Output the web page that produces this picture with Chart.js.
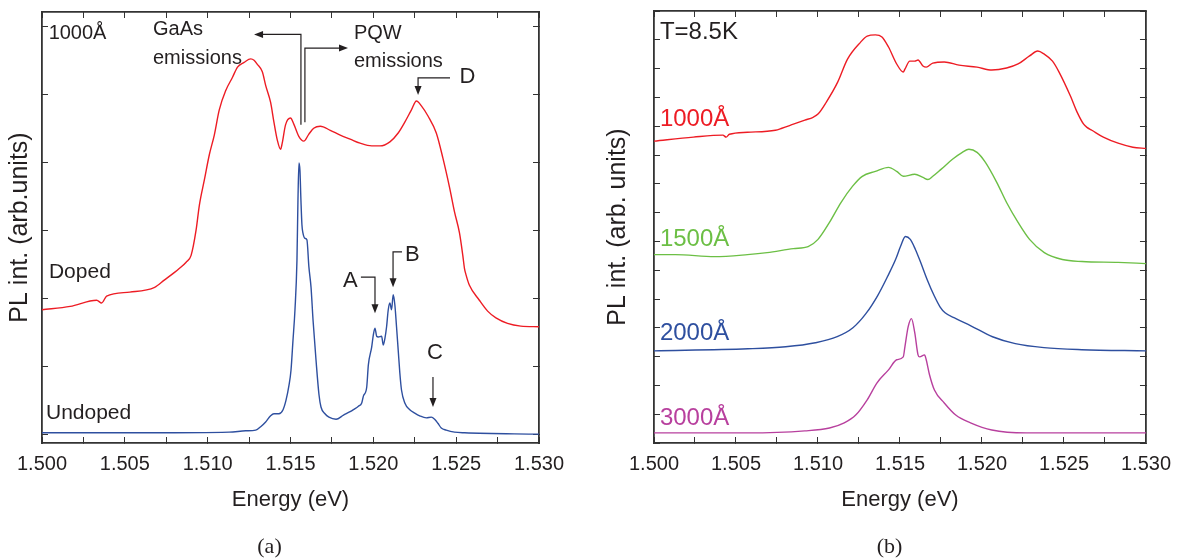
<!DOCTYPE html>
<html>
<head>
<meta charset="utf-8">
<script src="https://cdn.jsdelivr.net/npm/chart.js@4.4.1/dist/chart.umd.min.js"></script>
<style>
  html, body { margin: 0; padding: 0; background: #fff; }
  #wrap { position: relative; width: 1186px; height: 560px; }
  canvas { position: absolute; top: 0; }
  #panel-a { left: 0; }
  #panel-b { left: 593px; }
</style>
</head>
<body>
<div id="wrap">
  <canvas id="panel-a" width="593" height="560"></canvas>
  <canvas id="panel-b" width="593" height="560"></canvas>
</div>
<script>
// x axis: energy ticks (minor ticks get an empty label)
const energyTicks = [1.5, 1.5025, 1.505, 1.5075, 1.51, 1.5125, 1.515, 1.5175, 1.52, 1.5225, 1.525, 1.5275, 1.53];
const energyLabels = ["1.500", "", "1.505", "", "1.510", "", "1.515", "", "1.520", "", "1.525", "", "1.530"];
const yTicksA = [0.12, 1.12, 2.12, 3.12, 4.12, 5.12, 6.12];
const yTicksB = [0, 1, 2, 3, 4, 5, 6, 7, 8, 9, 10, 11, 12, 13, 14, 15];

// (a) doped sample, 1000 A
const energyDoped = [1.5000, 1.5017, 1.5033, 1.5036, 1.5039, 1.5053, 1.5068, 1.5074, 1.5080, 1.5083,
  1.5087, 1.5090, 1.5093, 1.5095, 1.5098, 1.5101, 1.5104, 1.5107, 1.5111, 1.5115,
  1.5118, 1.5122, 1.5126, 1.5128, 1.5130, 1.5133, 1.5135, 1.5138, 1.5140, 1.5142,
  1.5144, 1.5145, 1.5147, 1.5150, 1.5152, 1.5155, 1.5158, 1.5161, 1.5164, 1.5168,
  1.5174, 1.5180, 1.5186, 1.5192, 1.5199, 1.5204, 1.5210, 1.5215, 1.5219, 1.5223,
  1.5226, 1.5229, 1.5233, 1.5238, 1.5242, 1.5246, 1.5249, 1.5252, 1.5254, 1.5255,
  1.5256, 1.5258, 1.5264, 1.5269, 1.5274, 1.5281, 1.5289, 1.5300];
const dopedPL = [1.96, 2.01, 2.10, 2.06, 2.16, 2.22, 2.29, 2.40, 2.51, 2.57,
  2.66, 2.76, 3.13, 3.50, 3.87, 4.24, 4.53, 4.90, 5.19, 5.38,
  5.53, 5.60, 5.65, 5.63, 5.57, 5.46, 5.26, 5.01, 4.72, 4.46,
  4.32, 4.41, 4.68, 4.78, 4.69, 4.51, 4.44, 4.54, 4.63, 4.66,
  4.60, 4.53, 4.47, 4.41, 4.37, 4.37, 4.43, 4.56, 4.72, 4.90,
  5.03, 4.96, 4.81, 4.56, 4.19, 3.76, 3.40, 3.09, 2.76, 2.57,
  2.47, 2.32, 2.10, 1.94, 1.84, 1.76, 1.72, 1.71];

// (a) undoped sample
const energyUndoped = [1.5000, 1.5065, 1.5113, 1.5123, 1.5129, 1.5132, 1.5135, 1.5138, 1.5140, 1.5143,
  1.51455, 1.51473, 1.51491, 1.51503, 1.51515, 1.51527, 1.51539, 1.51545, 1.51551, 1.51557,
  1.51563, 1.51569, 1.51575, 1.51587, 1.51599, 1.51611, 1.51624, 1.51636, 1.51654, 1.51672,
  1.51684, 1.51708, 1.51732, 1.51775, 1.5182, 1.5186, 1.5188, 1.5191, 1.5193, 1.5194,
  1.5196, 1.5197, 1.5199, 1.5200, 1.5201, 1.5202, 1.5203, 1.5205, 1.5206, 1.5207,
  1.5208, 1.5209, 1.5210, 1.5211, 1.5212, 1.5213, 1.5214, 1.5215, 1.5216, 1.5217,
  1.5219, 1.5222, 1.5225, 1.5228, 1.5232, 1.5235, 1.5237, 1.5239, 1.5241, 1.5244,
  1.5249, 1.5255, 1.5300];
const undopedPL = [0.15, 0.15, 0.16, 0.18, 0.19, 0.24, 0.31, 0.40, 0.43, 0.43,
  0.49, 0.63, 0.85, 1.07, 1.51, 1.96, 2.69, 3.57, 4.12, 4.01,
  3.57, 3.21, 3.09, 3.01, 2.99, 2.59, 2.29, 1.81, 1.22, 0.71,
  0.53, 0.43, 0.38, 0.35, 0.41, 0.46, 0.49, 0.54, 0.59, 0.69,
  0.82, 1.15, 1.41, 1.59, 1.69, 1.57, 1.56, 1.57, 1.44, 1.54,
  1.71, 1.96, 2.06, 1.96, 2.18, 2.03, 1.71, 1.37, 1.03, 0.78,
  0.59, 0.49, 0.44, 0.40, 0.37, 0.38, 0.35, 0.29, 0.22, 0.19,
  0.16, 0.15, 0.13];

// (b) well widths at T = 8.5 K
const energy1000 = [1.5000, 1.5024, 1.5042, 1.5044, 1.5046, 1.5057, 1.5074, 1.5078, 1.5085, 1.5092,
  1.5097, 1.5100, 1.5105, 1.5112, 1.5118, 1.5126, 1.5130, 1.5135, 1.5139, 1.5143,
  1.5148, 1.5152, 1.5153, 1.5156, 1.5159, 1.5161, 1.5164, 1.5166, 1.5170, 1.5177,
  1.5186, 1.5197, 1.5206, 1.5215, 1.5222, 1.5229, 1.5234, 1.5238, 1.5243, 1.5247,
  1.5254, 1.5258, 1.5262, 1.5264, 1.5267, 1.5274, 1.5283, 1.5292, 1.5300];
const pl1000 = [10.48, 10.62, 10.69, 10.62, 10.72, 10.79, 10.86, 10.93, 11.07, 11.21,
  11.31, 11.42, 11.83, 12.53, 13.33, 13.92, 14.13, 14.17, 14.10, 13.75,
  13.16, 12.88, 12.98, 13.26, 13.26, 13.30, 13.09, 13.05, 13.19, 13.23,
  13.12, 13.05, 12.95, 13.02, 13.16, 13.44, 13.61, 13.50, 13.26, 12.88,
  12.04, 11.49, 11.07, 10.96, 10.86, 10.62, 10.41, 10.27, 10.23];

const energy1500 = [1.5000, 1.5013, 1.5037, 1.5057, 1.5069, 1.5085, 1.5094, 1.5100, 1.5107, 1.5114,
  1.5121, 1.5127, 1.5135, 1.5143, 1.5148, 1.5152, 1.5159, 1.5164, 1.5167, 1.5170,
  1.5175, 1.5182, 1.5188, 1.5192, 1.5197, 1.5202, 1.5209, 1.5215, 1.5222, 1.5229,
  1.5238, 1.5249, 1.5261, 1.5283, 1.5300];
const pl1500 = [6.54, 6.54, 6.47, 6.54, 6.61, 6.75, 6.82, 7.07, 7.66, 8.35,
  8.91, 9.26, 9.43, 9.57, 9.43, 9.26, 9.33, 9.22, 9.15, 9.26,
  9.50, 9.85, 10.09, 10.20, 10.09, 9.75, 9.05, 8.35, 7.66, 7.07,
  6.61, 6.37, 6.30, 6.27, 6.23];

const energy2000 = [1.5000, 1.50573, 1.50803, 1.50984, 1.51117, 1.51213, 1.51292, 1.51364, 1.51424, 1.51473,
  1.51503, 1.51533, 1.51563, 1.51594, 1.51624, 1.51666, 1.51708, 1.51744, 1.51775, 1.51841,
  1.51932, 1.52064, 1.52203, 1.52378, 1.52608, 1.5300];
const pl2000 = [3.20, 3.27, 3.34, 3.48, 3.69, 4.00, 4.49, 5.12, 5.78, 6.37,
  6.82, 7.17, 7.07, 6.72, 6.30, 5.67, 5.12, 4.73, 4.52, 4.32,
  4.07, 3.69, 3.45, 3.31, 3.24, 3.20];

const energy3000 = [1.5000, 1.5057, 1.5092, 1.5107, 1.5116, 1.5123, 1.5130, 1.5136, 1.5143, 1.5148,
  1.5152, 1.5153, 1.5155, 1.5157, 1.5159, 1.5161, 1.5162, 1.5165, 1.5166, 1.5168,
  1.5171, 1.5177, 1.5184, 1.5193, 1.5206, 1.5227, 1.5300];
const pl3000 = [0.35, 0.35, 0.42, 0.52, 0.70, 0.97, 1.50, 2.09, 2.54, 2.89,
  2.99, 3.34, 4.04, 4.32, 3.83, 3.06, 2.99, 3.06, 2.89, 2.37,
  1.84, 1.39, 0.97, 0.70, 0.45, 0.35, 0.35];

const RED = "#ed1c24";
const GREEN = "#6cbf45";
const BLUE = "#2e4f9f";
const MAGENTA = "#b8409e";
const INK = "#231f20";
const FAMILY = "'Liberation Sans', Arial, sans-serif";

Chart.defaults.font.family = FAMILY;
Chart.defaults.color = INK;

// text and arrows placed in data coordinates
const notesA = {
  labels: [
    { text: "1000Å", x: 1.5004, y: 6.03, size: 20 },
    { text: "GaAs", x: 1.5067, y: 6.08, size: 20 },
    { text: "emissions", x: 1.5067, y: 5.65, size: 20 },
    { text: "PQW", x: 1.51883, y: 6.02, size: 20 },
    { text: "emissions", x: 1.51883, y: 5.61, size: 20 },
    { text: "D", x: 1.5252, y: 5.38, size: 22 },
    { text: "Doped", x: 1.50042, y: 2.51, size: 21 },
    { text: "Undoped", x: 1.50024, y: 0.44, size: 21 },
    { text: "A", x: 1.51817, y: 2.38, size: 22 },
    { text: "B", x: 1.52191, y: 2.76, size: 22 },
    { text: "C", x: 1.52324, y: 1.32, size: 22 }
  ],
  arrows: [
    [[1.51563, 4.68], [1.51563, 6.01], [1.5128, 6.01]],
    [[1.51587, 4.72], [1.51587, 5.81], [1.51847, 5.81]],
    [[1.52463, 5.37], [1.5227, 5.37], [1.5227, 5.12]],
    [[1.51925, 2.44], [1.5201, 2.44], [1.5201, 1.91]],
    [[1.52173, 2.81], [1.52119, 2.81], [1.52119, 2.29]],
    [[1.5236, 0.97], [1.5236, 0.53]]
  ]
};
const notesB = {
  labels: [
    { text: "T=8.5K", x: 1.50036, y: 14.27, size: 24 },
    { text: "1000Å", x: 1.50036, y: 11.24, size: 24, color: RED },
    { text: "1500Å", x: 1.50036, y: 7.07, size: 24, color: GREEN },
    { text: "2000Å", x: 1.50036, y: 3.79, size: 24, color: BLUE },
    { text: "3000Å", x: 1.50036, y: 0.87, size: 24, color: MAGENTA }
  ],
  arrows: []
};

const notesPlugin = {
  id: "notes",
  afterDatasetsDraw(chart, args, opts) {
    const { ctx } = chart;
    const xs = chart.scales.x, ys = chart.scales.y;
    ctx.save();
    ctx.strokeStyle = INK;
    ctx.fillStyle = INK;
    ctx.lineWidth = 1.2;
    (opts.arrows || []).forEach((a) => {
      const pts = a.map(([e, v]) => [xs.getPixelForValue(e), ys.getPixelForValue(v)]);
      const [x1, y1] = pts[pts.length - 2];
      const [x2, y2] = pts[pts.length - 1];
      const ang = Math.atan2(y2 - y1, x2 - x1);
      const c = Math.cos(ang), s = Math.sin(ang);
      ctx.beginPath();
      pts.forEach(([px, py], i) => {
        if (i === pts.length - 1) ctx.lineTo(px - 6 * c, py - 6 * s);
        else if (i) ctx.lineTo(px, py);
        else ctx.moveTo(px, py);
      });
      ctx.stroke();
      ctx.beginPath();
      ctx.moveTo(x2, y2);
      ctx.lineTo(x2 - 9 * c + 3.5 * s, y2 - 9 * s - 3.5 * c);
      ctx.lineTo(x2 - 9 * c - 3.5 * s, y2 - 9 * s + 3.5 * c);
      ctx.closePath();
      ctx.fill();
    });
    (opts.labels || []).forEach((l) => {
      ctx.font = l.size + "px " + FAMILY;
      ctx.fillStyle = l.color || INK;
      ctx.textAlign = "left";
      ctx.textBaseline = "middle";
      ctx.fillText(l.text, xs.getPixelForValue(l.x), ys.getPixelForValue(l.y));
    });
    ctx.restore();
  }
};

function series(energy, values, color) {
  return {
    data: energy.map((e, i) => ({ x: e, y: values[i] })),
    borderColor: color,
    borderWidth: 1.4,
    pointRadius: 0,
    fill: false,
    cubicInterpolationMode: "monotone"
  };
}

function makePanel(canvasId, cfg) {
  const tickGrid = { drawOnChartArea: false, drawTicks: true, tickLength: -6, tickColor: "#333", tickWidth: 1 };
  const frame = { display: true, color: "#333", width: 1.8 };
  const setX = (s) => { s.ticks = energyTicks.map((v) => ({ value: v })); };
  const setY = (s) => { s.ticks = cfg.yTicks.map((v) => ({ value: v })); };
  return new Chart(document.getElementById(canvasId), {
    type: "line",
    data: { datasets: cfg.datasets },
    options: {
      responsive: false,
      animation: false,
      layout: { padding: { top: cfg.padTop, right: cfg.padRight, left: 0, bottom: 0 } },
      plugins: {
        legend: { display: false },
        tooltip: { enabled: false },
        title: {
          display: true,
          text: cfg.caption,
          position: "bottom",
          color: INK,
          padding: { top: 0, bottom: 0 },
          font: { family: "'Liberation Serif', 'Times New Roman', serif", size: 22, weight: "normal" }
        },
        notes: cfg.notes
      },
      scales: {
        x: {
          type: "linear", position: "bottom", min: 1.5, max: 1.53,
          afterBuildTicks: setX,
          afterFit: (s) => { s.height = 90.6; },
          grid: tickGrid, border: frame,
          ticks: {
            autoSkip: false, maxRotation: 0, padding: 15, color: INK,
            font: { size: 20 },
            callback: (v, i) => energyLabels[i]
          },
          title: { display: true, text: "Energy (eV)", color: INK, font: { size: 22 }, padding: { top: 0, bottom: 20 } }
        },
        xTop: {
          type: "linear", axis: "x", position: "top", min: 1.5, max: 1.53,
          afterBuildTicks: setX,
          afterFit: (s) => { s.height = 0; },
          grid: tickGrid, border: frame, ticks: { display: false }
        },
        y: {
          type: "linear", position: "left", min: cfg.yMin, max: cfg.yMax,
          afterBuildTicks: setY,
          afterFit: (s) => { s.width = cfg.leftWidth; },
          grid: tickGrid, border: frame, ticks: { display: false },
          title: {
            display: true, text: cfg.yTitle, color: INK,
            font: { size: 25 },
            padding: { top: cfg.yTitlePad, bottom: 0 }
          }
        },
        yRight: {
          type: "linear", axis: "y", position: "right", min: cfg.yMin, max: cfg.yMax,
          afterBuildTicks: setY,
          afterFit: (s) => { s.width = cfg.rightWidth; },
          grid: tickGrid, border: frame, ticks: { display: false }
        }
      }
    },
    plugins: [notesPlugin]
  });
}

makePanel("panel-a", {
  datasets: [series(energyDoped, dopedPL, RED), series(energyUndoped, undopedPL, BLUE)],
  yMin: 0, yMax: 6.34, yTicks: yTicksA,
  padTop: 12, padRight: 54, leftWidth: 42, rightWidth: 0, yTitlePad: 5,
  yTitle: "PL int. (arb.units)", caption: "(a)", notes: notesA
});

makePanel("panel-b", {
  datasets: [
    series(energy1000, pl1000, RED),
    series(energy1500, pl1500, GREEN),
    series(energy2000, pl2000, BLUE),
    series(energy3000, pl3000, MAGENTA)
  ],
  yMin: 0, yMax: 15, yTicks: yTicksB,
  padTop: 11, padRight: 0, leftWidth: 61, rightWidth: 35, yTitlePad: 10,
  yTitle: "PL int. (arb. units)", caption: "(b)", notes: notesB
});
</script>
</body>
</html>
